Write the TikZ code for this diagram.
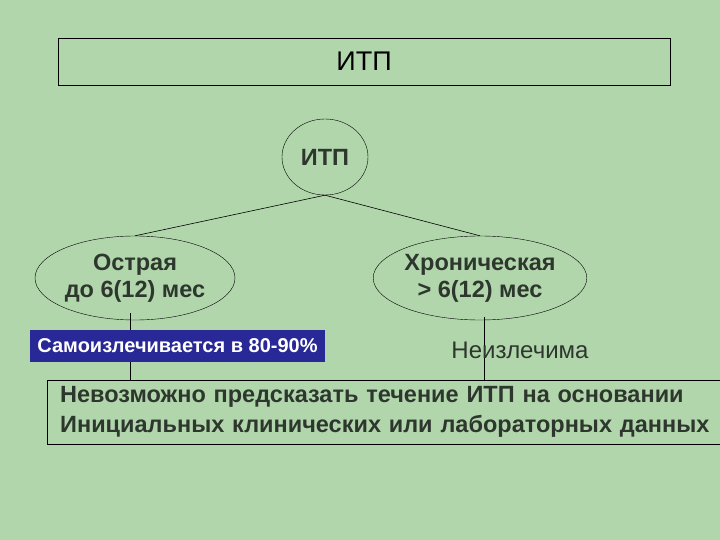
\documentclass[tikz,border=0pt]{standalone}
\usepackage{fontspec}
\setmainfont{Liberation Sans}
\usetikzlibrary{shapes.geometric}
\definecolor{bg}{RGB}{178,214,172}
\definecolor{tx}{RGB}{45,55,45}
\definecolor{bluebox}{RGB}{40,40,150}
\begin{document}
\begin{tikzpicture}[x=1pt,y=-1pt,
  el/.style={draw,ellipse,inner sep=0pt},
  bt/.style={font=\fontsize{23.5}{27}\selectfont\bfseries,text=tx,align=center},
  ln/.style={draw,line width=0.6pt}]
\fill[bg] (0,0) rectangle (720,540);
\useasboundingbox (0,0) rectangle (720,540);
\node[draw,minimum width=612,minimum height=47,inner sep=0pt,font=\fontsize{27}{30}\selectfont] (top) at (364,61.5) {ИТП};
\node[el,minimum width=86,minimum height=76,bt] (root) at (325,157) {ИТП};
\node[el,minimum width=200,minimum height=84,bt] (acute) at (135,278) {Острая\\до 6(12) мес};
\node[el,minimum width=212,minimum height=84,bt] (chron) at (480,278) {Хроническая\\> 6(12) мес};
\draw[ln] (root.south) -- (acute.north);
\draw[ln] (root.south) -- (chron.north);
\node[fill=bluebox,text=white,minimum width=295,minimum height=32,inner sep=0pt,font=\fontsize{20}{23}\selectfont\bfseries] (self) at (177.5,346) {Самоизлечивается в 80-90\%};
\node[draw,minimum width=680,minimum height=64,inner sep=0pt,anchor=north west,text width=670,font=\fontsize{23.5}{30}\selectfont\bfseries,text=tx,align=left] (bot) at (47,380) {\hspace*{8pt}Невозможно предсказать течение ИТП на основании\\\hspace*{8pt}Инициальных клинических или лабораторных данных};
\coordinate (a1) at (130,313);
\coordinate (c1) at (484,317);
\draw[ln] (a1) -- (self.north -| a1);
\draw[ln] (self.south -| a1) -- (bot.north -| a1);
\draw[ln] (c1) -- (bot.north -| c1);
\node[font=\fontsize{24}{28}\selectfont,text=tx] (inc) at (520,350) {Неизлечима};
\end{tikzpicture}
\end{document}
